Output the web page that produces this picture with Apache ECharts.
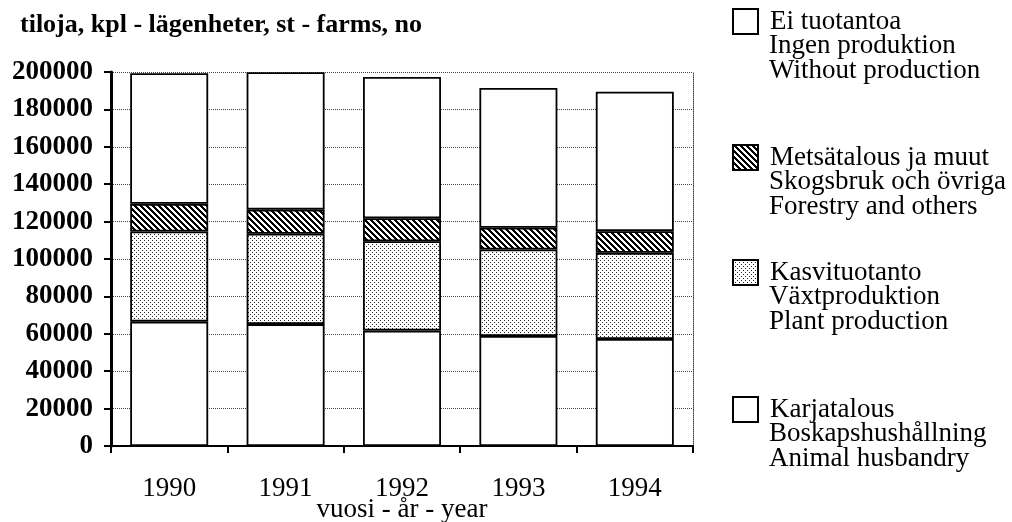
<!DOCTYPE html>
<html>
<head>
<meta charset="utf-8">
<script src="https://cdn.jsdelivr.net/npm/echarts@6/dist/echarts.min.js"></script>
<style>
html, body { margin: 0; background: #fff; }
#container { width: 1012px; height: 522px; }
</style>
</head>
<body>
<div id="container"></div>
<script>
// tilat tuotantosuunnan mukaan
const years = ['1990', '1991', '1992', '1993', '1994'];
const karjatalous = [66500, 65200, 61700, 58800, 57200];
const kasvituotanto = [48200, 48300, 47800, 46300, 46100];
const metsatalous = [14800, 12900, 12300, 11600, 11600];
const eiTuotantoa = [69800, 73500, 75500, 74800, 74600];

const seriesNames = ['Ei tuotantoa', 'Metsätalous ja muut', 'Kasvituotanto', 'Karjatalous'];
const legendSub = [
	['Ingen produktion', 'Without production'],
	['Skogsbruk och övriga', 'Forestry and others'],
	['Växtproduktion', 'Plant production'],
	['Boskapshushållning', 'Animal husbandry']
];

const FONT = "'Liberation Serif', 'Times New Roman', serif";
const FS = 27;

// pistekuvio
function dotPattern() {
	var c = document.createElement('canvas');
	c.width = 4; c.height = 4;
	var ctx = c.getContext('2d');
	ctx.fillStyle = '#fff';
	ctx.fillRect(0, 0, 4, 4);
	ctx.fillStyle = '#222';
	ctx.fillRect(0, 0, 1, 1);
	ctx.fillRect(2, 2, 1, 1);
	return c;
}
// vinoviivoitus
function hatchPattern() {
	var c = document.createElement('canvas');
	c.width = 6; c.height = 6;
	var ctx = c.getContext('2d');
	ctx.fillStyle = '#fff';
	ctx.fillRect(0, 0, 6, 6);
	ctx.fillStyle = '#000';
	for (var x = 0; x < 6; x++) {
		for (var y = 0; y < 6; y++) {
			if (((x - y) % 6 + 6) % 6 < 3) ctx.fillRect(x, y, 1, 1);
		}
	}
	return c;
}

var myChart = echarts.init(document.getElementById('container'));

var legendTop = [8, 144, 259, 396]; // ruutujen yläreuna
var lineCenter = [21, 157, 272, 409];

var legends = seriesNames.map(function (n, i) {
	return {
		data: [n],
		left: 732,
		top: legendTop[i],
		padding: 0,
		icon: 'rect',
		itemWidth: 25,
		itemHeight: 25,
		selectedMode: false,
		textStyle: { fontFamily: FONT, fontSize: FS, color: '#000', padding: [0, 0, 0, 7] }
	};
});

var graphics = [];
legendSub.forEach(function (lines, i) {
	lines.forEach(function (t, j) {
		graphics.push({
			type: 'text',
			x: 769,
			y: lineCenter[i] + 25 * (j + 1),
			style: { text: t, fontFamily: FONT, fontSize: FS, fill: '#000', verticalAlign: 'middle' }
		});
	});
});

function barSeries(name, data, color) {
	return {
		name: name,
		type: 'bar',
		stack: 'total',
		barWidth: '67%',
		data: data,
		silent: true,
		itemStyle: { color: color, borderColor: '#000', borderWidth: 1.8 }
	};
}

var option = {
	animation: false,
	title: {
		text: 'tiloja, kpl - lägenheter, st - farms, no',
		left: 20,
		top: 12,
		padding: 0,
		textStyle: { fontFamily: FONT, fontSize: 26, fontWeight: 'bold', color: '#000' }
	},
	legend: legends,
	grid: { left: 111, right: 319, top: 72, bottom: 76, containLabel: false, outerBoundsMode: 'none' },
	xAxis: {
		type: 'category',
		data: years,
		axisLine: { lineStyle: { color: '#000', width: 2 } },
		axisTick: { show: true, length: 7, lineStyle: { color: '#000', width: 2 } },
		axisLabel: { fontFamily: FONT, fontSize: FS, color: '#000', margin: 29 },
		name: 'vuosi - år - year',
		nameLocation: 'middle',
		nameGap: 50,
		nameMoveOverlap: false,
		nameTextStyle: { fontFamily: FONT, fontSize: FS, color: '#000' }
	},
	yAxis: [{
		type: 'value',
		min: 0,
		max: 200000,
		interval: 20000,
		axisLine: { show: true, lineStyle: { color: '#000', width: 3 } },
		axisTick: { show: true, length: 7, lineStyle: { color: '#000', width: 2 } },
		axisLabel: {
			fontFamily: FONT, fontSize: FS, fontWeight: 'bold', color: '#000', margin: 18,
			formatter: function (v) { return String(v); }
		},
		splitLine: { show: true, lineStyle: { color: '#444', type: 'dotted', width: 1 } }
	}, {
		type: 'value',
		position: 'right',
		min: 0,
		max: 200000,
		interval: 20000,
		axisLine: { show: true, lineStyle: { color: '#444', type: 'dotted', width: 1 } },
		axisTick: { show: false },
		axisLabel: { show: false },
		splitLine: { show: false }
	}],
	series: [
		barSeries('Karjatalous', karjatalous, '#fff'),
		barSeries('Kasvituotanto', kasvituotanto, { image: dotPattern(), repeat: 'repeat' }),
		barSeries('Metsätalous ja muut', metsatalous, { image: hatchPattern(), repeat: 'repeat' }),
		barSeries('Ei tuotantoa', eiTuotantoa, '#fff')
	],
	graphic: graphics
};

myChart.setOption(option);
</script>
</body>
</html>
